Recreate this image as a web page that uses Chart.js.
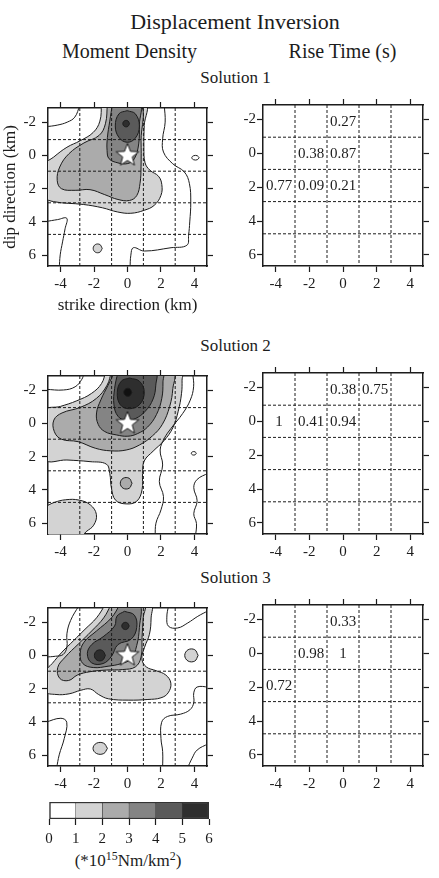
<!DOCTYPE html>
<html>
<head>
<meta charset="utf-8">
<script src="https://cdn.jsdelivr.net/npm/chart.js@4.4.0/dist/chart.umd.min.js"></script>
<style>
  body { margin: 0; background: #fff; }
  #page { position: relative; width: 439px; height: 878px; background: #fff; overflow: hidden;
          font-family: 'Liberation Serif', 'Times New Roman', serif; color: #1c1c1c; }
  .t { position: absolute; white-space: nowrap; transform: translate(-50%, -50%); line-height: 1; }
  canvas { position: absolute; }
  sup { font-size: 70%; line-height: 0; vertical-align: 0.5em; }
</style>
</head>
<body>
<div id="page">
  <div class="t" style="left:235px;top:22px;font-size:22px">Displacement Inversion</div>
  <div class="t" style="left:129.5px;top:51px;font-size:20px">Moment Density</div>
  <div class="t" style="left:342.5px;top:51px;font-size:20px">Rise Time (s)</div>
  <div class="t" style="left:235.5px;top:77px;font-size:17px">Solution 1</div>
  <div class="t" style="left:235.5px;top:344.5px;font-size:17px">Solution 2</div>
  <div class="t" style="left:235.5px;top:577px;font-size:17px">Solution 3</div>
  <div class="t" style="left:128px;top:860px;font-size:17px">(*10<sup>15</sup>Nm/km<sup>2</sup>)</div>

  <canvas id="m1" width="220" height="227" style="left:0;top:93px"></canvas>
  <canvas id="r1" width="219" height="203" style="left:214px;top:93px"></canvas>
  <canvas id="m2" width="220" height="203" style="left:0;top:361px"></canvas>
  <canvas id="r2" width="219" height="203" style="left:214px;top:361px"></canvas>
  <canvas id="m3" width="220" height="203" style="left:0;top:593px"></canvas>
  <canvas id="r3" width="219" height="203" style="left:214px;top:593px"></canvas>
  <canvas id="cb" width="220" height="65" style="left:0;top:790px"></canvas>
</div>
<script>
// axes (km)
const stepX = [-4, -2, 0, 2, 4];
const stepY = [-2, 0, 2, 4, 6];
const xRange = [-4.75, 4.75];
const yRange = [-2.85, 6.65];
// subfault boundaries and centres
const gridX = [-2.85, -0.95, 0.95, 2.85];
const gridY = [-0.95, 0.95, 2.85, 4.75];
const cellX = [-3.8, -1.9, 0, 1.9, 3.8];
const cellY = [-1.9, 0, 1.9, 3.8, 5.7];

// rise time per subfault (rows = dip, cols = strike)
const riseTime1 = [
  [null, null, 0.27, null, null],
  [null, 0.38, 0.87, null, null],
  [0.77, 0.09, 0.21, null, null],
  [null, null, null, null, null],
  [null, null, null, null, null]
];
const riseTime2 = [
  [null, null, 0.38, 0.75, null],
  [1, 0.41, 0.94, null, null],
  [null, null, null, null, null],
  [null, null, null, null, null],
  [null, null, null, null, null]
];
const riseTime3 = [
  [null, null, 0.33, null, null],
  [null, 0.98, 1, null, null],
  [0.72, null, null, null, null],
  [null, null, null, null, null],
  [null, null, null, null, null]
];

const hypocenter = [0, 0];
const densityBins = [0, 1, 2, 3, 4, 5, 6];

// moment density contours: [level, [x, y] vertices in km]
const sol1Fills = [
  [1, [[-1.55,-3.1],[-1.65,-2.06],[-2.05,-1.38],[-2.83,-0.88],[-3.62,-0.49],[-4.41,0.1],[-4.9,0.55],[-4.9,2.5],[-4.41,2.78],[-2.64,2.95],[-1.5,3.15],[-0.6,3.4],[0.2,3.48],[1.0,3.3],[1.6,3.0],[2.0,2.4],[2.05,1.75],[1.85,1.25],[1.35,0.9],[1.05,0.45],[0.98,-0.5],[1.0,-1.8],[1.06,-3.1],[-1.55,-3.1]]],
  [1, [[-1.51,5.59],[-1.65,5.82],[-1.92,5.82],[-2.05,5.59],[-1.92,5.36],[-1.65,5.36],[-1.51,5.59]]],
  [0, [[4.28,0.14],[4.17,0.26],[3.95,0.26],[3.84,0.14],[3.95,0.02],[4.17,0.02],[4.28,0.14]]],
  [2, [[-1.2,-3.1],[-1.32,-1.9],[-1.7,-1.2],[-2.6,-0.75],[-3.5,-0.1],[-4.05,0.7],[-4.2,1.5],[-3.95,2.0],[-3.13,2.1],[-2.24,2.06],[-1.36,2.36],[-0.57,2.65],[0.12,2.71],[0.55,2.42],[0.75,1.67],[0.81,0.69],[0.81,-0.88],[0.75,-3.1],[-1.2,-3.1]]],
  [3, [[-0.9,-3.1],[-1.06,-2.06],[-1.2,-1.08],[-1.22,-0.29],[-1.1,0.2],[-0.57,0.45],[0.02,0.49],[0.41,0.2],[0.67,-0.69],[0.71,-1.87],[0.71,-3.1],[-0.9,-3.1]]],
  [4, [[-0.02,-2.69],[0.47,-2.5],[0.71,-1.77],[0.47,-1.04],[-0.02,-0.79],[-0.51,-1.08],[-0.73,-1.77],[-0.51,-2.5],[-0.02,-2.69]]],
  [5, [[0.12,-1.91],[0.02,-1.74],[-0.18,-1.74],[-0.28,-1.91],[-0.18,-2.08],[0.02,-2.08],[0.12,-1.91]]]
];
const sol1Lines = [
  [[-4.9,-1.72],[-4.2,-1.82],[-3.6,-2.0],[-3.15,-2.3],[-2.85,-3.0]],
  [[-4.9,3.98],[-4.18,3.86],[-3.63,3.78],[-3.73,4.41],[-3.88,5.2],[-4.02,5.98],[-4.08,6.8]],
  [[2.2,-3.0],[2.25,-2.0],[2.1,-1.0],[2.15,-0.2],[2.7,0.5],[3.4,1.0],[3.7,1.7],[3.78,2.8],[3.72,4.0],[3.65,4.8],[3.55,5.4],[2.6,5.55],[1.0,5.75],[0.35,5.55],[0.2,6.0],[0.15,6.8]]
];

const sol2Fills = [
  [1, [[-1.3,-3.1],[-1.55,-2.4],[-2.14,-1.81],[-3.03,-1.36],[-4.01,-1.02],[-4.9,-0.77],[-4.9,2.15],[-3.62,2.2],[-2.24,2.3],[-1.26,2.45],[-1.06,3.01],[-0.96,3.89],[-0.71,4.62],[-0.08,4.84],[0.55,4.68],[0.87,3.99],[0.9,3.01],[1.0,2.26],[1.53,1.67],[2.18,1.04],[2.71,0.26],[3.03,-0.73],[3.23,-1.81],[3.26,-2.6],[3.23,-3.1],[-1.3,-3.1]]],
  [1, [[-4.9,5.0],[-4.37,4.75],[-3.69,4.59],[-2.9,4.61],[-2.22,4.9],[-1.86,5.47],[-2.02,6.12],[-2.47,6.51],[-2.8,6.8],[-4.9,6.8],[-4.9,5.0]]],
  [0, [[4.11,1.8],[4.04,1.89],[3.88,1.89],[3.81,1.8],[3.88,1.71],[4.04,1.71],[4.11,1.8]]],
  [2, [[-0.96,-3.1],[-1.22,-2.3],[-1.85,-1.51],[-2.83,-0.96],[-3.91,-0.63],[-4.4,-0.2],[-4.37,0.5],[-3.95,0.95],[-2.95,1.1],[-1.9,1.5],[-1.0,1.65],[-0.08,1.6],[0.71,1.3],[1.49,0.75],[2.08,0.06],[2.52,-1.02],[2.71,-2.1],[2.71,-3.1],[-0.96,-3.1]]],
  [2, [[0.27,3.6],[0.1,3.9],[-0.26,3.9],[-0.43,3.6],[-0.26,3.3],[0.1,3.3],[0.27,3.6]]],
  [3, [[-0.77,-3.1],[-1.16,-2.3],[-1.59,-1.42],[-1.85,-0.63],[-1.75,0.06],[-1.36,0.49],[-0.67,0.69],[0.02,0.77],[0.61,0.61],[1.2,0.22],[1.73,-0.53],[2.05,-1.51],[2.12,-2.5],[2.08,-3.1],[-0.77,-3.1]]],
  [4, [[-0.57,-3.1],[-0.77,-2.1],[-0.81,-1.12],[-0.57,-0.43],[-0.08,-0.18],[0.47,-0.29],[1.06,-0.73],[1.53,-1.47],[1.69,-2.3],[1.65,-3.1],[-0.57,-3.1]]],
  [5, [[0.12,-2.73],[0.71,-2.54],[1.0,-1.91],[0.75,-1.16],[0.12,-0.88],[-0.43,-1.12],[-0.61,-1.87],[-0.37,-2.54],[0.12,-2.73]]],
  [6, [[0.26,-1.87],[0.14,-1.66],[-0.1,-1.66],[-0.22,-1.87],[-0.1,-2.08],[0.14,-2.08],[0.26,-1.87]]]
];
const sol2Lines = [
  [[-4.9,-2.05],[-3.82,-2.01],[-3.13,-2.2],[-2.73,-2.65],[-2.6,-3.0]],
  [[3.9,-3.0],[3.95,-2.2],[3.75,-1.4],[3.3,-0.6],[2.6,0.3],[2.2,0.9],[1.95,1.6],[2.1,2.5],[1.9,3.5],[2.15,4.4],[2.0,5.2],[1.7,6.0],[1.65,6.8]],
  [[4.85,2.98],[4.16,3.37],[3.96,3.86],[4.16,4.65],[3.96,5.43],[4.12,6.02],[4.06,6.8]]
];

const sol3Fills = [
  [1, [[-1.3,-3.1],[-1.85,-2.26],[-2.54,-1.57],[-3.23,-0.88],[-3.91,-0.2],[-4.5,0.49],[-4.9,0.98],[-4.9,2.16],[-4.27,2.35],[-3.49,2.31],[-2.8,2.1],[-2.22,2.02],[-1.73,2.35],[-1.14,2.61],[0.04,2.69],[1.22,2.65],[2.0,2.55],[2.43,2.25],[2.59,1.67],[2.29,1.18],[1.71,0.92],[1.12,0.69],[0.86,0.2],[1.02,-0.49],[1.31,-1.27],[1.41,-2.25],[1.37,-3.1],[-1.3,-3.1]]],
  [1, [[4.22,0],[4.02,0.34],[3.62,0.34],[3.42,0],[3.62,-0.34],[4.02,-0.34],[4.22,0]]],
  [1, [[-1.2,5.59],[-1.42,5.9],[-1.85,5.9],[-2.06,5.59],[-1.85,5.28],[-1.42,5.28],[-1.2,5.59]]],
  [2, [[-0.96,-3.1],[-1.42,-2.26],[-2.14,-1.47],[-2.93,-0.69],[-3.72,0.1],[-4.17,0.73],[-4.05,1.38],[-3.52,1.51],[-2.99,1.18],[-2.24,0.98],[-1.26,0.88],[-0.28,0.85],[0.47,0.69],[0.81,0.1],[0.87,-1.08],[0.94,-2.26],[1.0,-3.1],[-0.96,-3.1]]],
  [3, [[-0.43,-3.1],[-0.96,-2.26],[-1.85,-1.47],[-2.6,-0.79],[-2.83,-0.1],[-2.67,0.49],[-2.05,0.73],[-1.16,0.65],[-0.37,0.49],[0.22,0.2],[0.55,-0.59],[0.71,-1.67],[0.71,-3.1],[-0.43,-3.1]]],
  [4, [[-0.18,-2.65],[0.41,-2.42],[0.55,-1.67],[0.22,-0.98],[-0.57,-0.65],[-0.96,0.06],[-1.46,0.49],[-2.14,0.45],[-2.4,-0.1],[-2.14,-0.65],[-1.46,-1.12],[-0.77,-1.77],[-0.63,-2.36],[-0.18,-2.65]]],
  [5, [[0.1,-1.77],[-0.01,-1.58],[-0.23,-1.58],[-0.34,-1.77],[-0.23,-1.96],[-0.01,-1.96],[0.1,-1.77]]],
  [5, [[-1.32,0],[-1.49,0.29],[-1.82,0.29],[-1.98,0],[-1.82,-0.29],[-1.49,-0.29],[-1.32,0]]]
];
const sol3Lines = [
  [[-4.9,0.1],[-4.3,0.05],[-3.85,-0.05],[-3.62,-0.5],[-3.62,-1.3],[-3.4,-2.1],[-2.9,-3.0]],
  [[2.45,-3.0],[2.35,-2.3],[2.45,-1.75],[3.0,-1.65],[3.6,-1.95],[4.2,-2.35],[4.85,-2.7]],
  [[4.85,1.9],[4.16,1.9],[3.96,2.25],[3.96,2.84],[3.73,3.27],[3.18,3.53],[2.39,3.67],[2.04,4.02],[2.0,5.0],[2.1,5.78],[2.1,6.8]],
  [[3.57,6.8],[3.86,6.18],[4.16,5.69],[4.85,5.3]],
  [[-4.9,4.02],[-3.98,3.78],[-3.63,4.02],[-3.78,5.0],[-4.08,5.98],[-4.24,6.8]]
];

// styles
const serif = "'Liberation Serif', 'Times New Roman', serif";
const ink = '#1c1c1c';
const shades = ['#ffffff', '#d3d3d3', '#ababab', '#848484', '#5a5a5a', '#2e2e2e', '#111111'];
Chart.defaults.font.family = serif;
Chart.defaults.color = ink;

function makeStar(r) {
  const c = document.createElement('canvas');
  const s = Math.ceil(r * 2 + 4);
  c.width = s; c.height = s;
  const g = c.getContext('2d');
  g.translate(s / 2, s / 2);
  g.beginPath();
  for (let k = 0; k < 10; k++) {
    const rad = k % 2 ? r * 0.42 : r;
    const a = -Math.PI / 2 + k * Math.PI / 5;
    g.lineTo(rad * Math.cos(a), rad * Math.sin(a));
  }
  g.closePath();
  g.fillStyle = '#fff';
  g.fill();
  g.lineWidth = 1;
  g.strokeStyle = ink;
  g.stroke();
  return c;
}
const starImg = makeStar(12);

// numbers written in the middle of each subfault
const cellText = {
  id: 'cellText',
  afterDatasetsDraw(chart, args, opts) {
    if (!opts.values) return;
    const {ctx, scales: {x, y}} = chart;
    ctx.save();
    ctx.font = '15px ' + serif;
    ctx.fillStyle = ink;
    ctx.textAlign = 'center';
    ctx.textBaseline = 'middle';
    opts.values.forEach((row, j) => row.forEach((v, i) => {
      if (v === null) return;
      ctx.fillText(String(v), x.getPixelForValue(cellX[i]), y.getPixelForValue(cellY[j]) + 1);
    }));
    ctx.restore();
  }
};

const toPts = arr => arr.map(([x, y]) => ({x, y}));

function gridSets() {
  const dash = data => ({
    data, showLine: true, fill: false, borderColor: ink, borderWidth: 1,
    borderDash: [3, 2], pointRadius: 0, order: 1
  });
  const sets = [];
  gridX.forEach(e => sets.push(dash([{x: e, y: yRange[0]}, {x: e, y: yRange[1]}])));
  gridY.forEach(e => sets.push(dash([{x: xRange[0], y: e}, {x: xRange[1], y: e}])));
  return sets;
}

function densitySets(fills, lines) {
  const sets = [];
  fills.forEach(([lvl, pts]) => sets.push({
    data: toPts(pts), showLine: true, fill: 'shape', backgroundColor: shades[lvl],
    borderColor: ink, borderWidth: 1, tension: 0.4, capBezierPoints: false,
    pointRadius: 0, order: 9 - lvl
  }));
  lines.forEach(pts => sets.push({
    data: toPts(pts), showLine: true, fill: false, borderColor: ink, borderWidth: 1,
    tension: 0.4, capBezierPoints: false, pointRadius: 0, order: 2
  }));
  sets.push({
    data: [{x: hypocenter[0], y: hypocenter[1]}], showLine: false,
    pointStyle: starImg, pointRadius: 12, order: 0
  });
  return sets;
}

function frameScales(opt) {
  const marks = {drawOnChartArea: false, drawTicks: true, tickLength: 6, tickWidth: 1.2, tickColor: ink};
  const edge = {display: true, color: ink, width: 1.5};
  const tickFont = {family: serif, size: 15};
  const setTicks = vals => s => { s.ticks = vals.map(v => ({value: v})); };
  const xBase = {type: 'linear', axis: 'x', min: xRange[0], max: xRange[1], afterBuildTicks: setTicks(stepX), grid: marks, border: edge};
  const yBase = {type: 'linear', axis: 'y', reverse: true, min: yRange[0], max: yRange[1], afterBuildTicks: setTicks(stepY), grid: marks, border: edge};
  return {
    x: Object.assign({}, xBase, {
      position: 'bottom',
      ticks: {font: tickFont, color: ink, padding: 3, maxRotation: 0, autoSkip: false},
      title: {display: !!opt.xTitle, text: opt.xTitle || '', font: {family: serif, size: 17}, color: ink, padding: {top: 0, bottom: 4}},
      afterFit: s => { s.height = opt.bottom; }
    }),
    y: Object.assign({}, yBase, {
      position: 'left',
      ticks: {font: tickFont, color: ink, padding: opt.yPad, autoSkip: false},
      title: {display: !!opt.yTitle, text: opt.yTitle || '', font: {family: serif, size: 17}, color: ink, padding: 0},
      afterFit: s => { s.width = opt.left; }
    }),
    xTop: Object.assign({}, xBase, {position: 'top', ticks: {display: false}, afterFit: s => { s.height = 12; }}),
    yRight: Object.assign({}, yBase, {position: 'right', ticks: {display: false}, afterFit: s => { s.width = opt.right; }})
  };
}

function panel(id, datasets, opt, values) {
  return new Chart(document.getElementById(id), {
    type: 'scatter',
    data: {datasets},
    options: {
      responsive: false,
      animation: false,
      devicePixelRatio: 1,
      layout: {padding: 0},
      plugins: {legend: {display: false}, tooltip: {enabled: false}, cellText: {values}},
      scales: frameScales(opt)
    },
    plugins: [cellText]
  });
}

const leftOpt = {left: 48, right: 11, bottom: 30, yPad: 6};
const rightOpt = {left: 49, right: 10, bottom: 30, yPad: 1};

panel('m1', gridSets().concat(densitySets(sol1Fills, sol1Lines)),
  Object.assign({}, leftOpt, {bottom: 54, xTitle: 'strike direction (km)', yTitle: 'dip direction (km)'}), null);
panel('r1', gridSets(), rightOpt, riseTime1);
panel('m2', gridSets().concat(densitySets(sol2Fills, sol2Lines)), leftOpt, null);
panel('r2', gridSets(), rightOpt, riseTime2);
panel('m3', gridSets().concat(densitySets(sol3Fills, sol3Lines)), leftOpt, null);
panel('r3', gridSets(), rightOpt, riseTime3);

// colour scale
new Chart(document.getElementById('cb'), {
  type: 'bar',
  data: {
    labels: [''],
    datasets: shades.slice(0, 6).map((c, i) => ({
      data: [[densityBins[i], densityBins[i + 1]]],
      backgroundColor: c, borderColor: '#333',
      borderWidth: {top: 1.5, bottom: 1.5, left: i === 0 ? 1.5 : 0.5, right: i === 5 ? 1.5 : 0.5},
      borderSkipped: false, barPercentage: 1, categoryPercentage: 1
    }))
  },
  options: {
    indexAxis: 'y',
    responsive: false,
    animation: false,
    devicePixelRatio: 1,
    layout: {padding: {left: 49, right: 11, top: 12, bottom: 0}},
    plugins: {legend: {display: false}, tooltip: {enabled: false}},
    scales: {
      x: {
        type: 'linear', position: 'bottom', min: 0, max: 6,
        afterBuildTicks: s => { s.ticks = densityBins.map(v => ({value: v})); },
        ticks: {font: {family: serif, size: 15}, color: ink, padding: 5, maxRotation: 0, autoSkip: false},
        grid: {drawOnChartArea: false, drawTicks: true, tickLength: 6, tickWidth: 1.2, tickColor: ink},
        border: {display: false},
        afterFit: s => { s.height = 36; }
      },
      y: {type: 'category', display: false, stacked: true}
    }
  }
});
</script>
</body>
</html>
